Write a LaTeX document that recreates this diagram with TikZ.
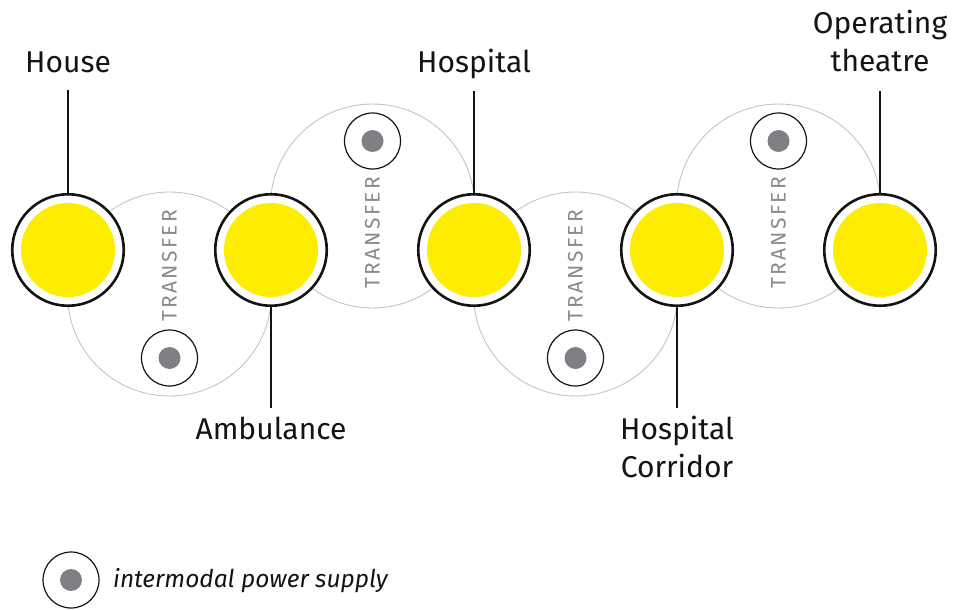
\documentclass[tikz,border=0pt]{standalone}
\usepackage{fontspec}
\setmainfont{Fira Sans}
\newfontfamily\tfont[LetterSpace=11]{Fira Sans}
\definecolor{stopyellow}{HTML}{FFED00}
\definecolor{dotgray}{HTML}{808084}
\definecolor{ringgray}{HTML}{C4C4C4}
\definecolor{txtgray}{HTML}{8A8A8E}
\definecolor{ink}{HTML}{141414}
\begin{document}
\begin{tikzpicture}[x=1pt,y=-1pt,
  stop/.style={circle, draw=ink, line width=2.6pt, fill=white, minimum size=111.5pt, inner sep=0pt},
  core/.style={circle, fill=stopyellow, minimum size=94pt, inner sep=0pt},
  transfer/.style={circle, draw=ringgray, line width=0.9pt, minimum size=204pt, inner sep=0pt},
  power/.style={circle, draw=ink, line width=1.2pt, fill=white, minimum size=56pt, inner sep=0pt},
  pdot/.style={circle, fill=dotgray, minimum size=22pt, inner sep=0pt},
  ttext/.style={rotate=90, text=txtgray, font=\tfont\fontsize{21}{21}\selectfont, inner sep=0pt},
  lbl/.style={text=ink, font=\fontsize{30}{38}\selectfont, align=center, inner sep=0pt, anchor=base},
  lead/.style={draw=ink, line width=1.3pt}
]
\useasboundingbox (0,0) rectangle (954,610);
% transfer rings
\node[transfer] (t1) at (169.5,294) {};
\node[transfer] (t2) at (372.5,206) {};
\node[transfer] (t3) at (575.5,294) {};
\node[transfer] (t4) at (778.5,206) {};
% stops
\foreach \n/\x in {s1/68, s2/271, s3/474, s4/677, s5/880}{
  \node[stop] (\n) at (\x,250) {};
  \node[core] at (\n) {};
}
% power supplies
\node[power] (p1) at (169.5,358) {}; \node[pdot] at (p1) {};
\node[power] (p2) at (372.5,141) {}; \node[pdot] at (p2) {};
\node[power] (p3) at (575.5,358) {}; \node[pdot] at (p3) {};
\node[power] (p4) at (778.5,141) {}; \node[pdot] at (p4) {};
% TRANSFER texts
\node[ttext] (x1) at (169.5,266) {TRANSFER};
\node[ttext] (x2) at (372.5,233) {TRANSFER};
\node[ttext] (x3) at (575.5,266) {TRANSFER};
\node[ttext] (x4) at (778.5,233) {TRANSFER};
% labels
\node[lbl] (l1) at (68,73) {House};
\node[lbl] (l2) at (271,439) {Ambulance};
\node[lbl] (l3) at (474,73) {Hospital};
\node[lbl] (l4) at (677,477) {Hospital\\Corridor};
\node[lbl] (l5) at (880,72) {Operating\\theatre};
\coordinate (c1) at (68,90);
\coordinate (c2) at (271,408);
\coordinate (c3) at (474,91);
\coordinate (c4) at (677,408);
\coordinate (c5) at (880,91);
\draw[lead] (c1) -- (s1.north);
\draw[lead] (c2) -- (s2.south);
\draw[lead] (c3) -- (s3.north);
\draw[lead] (c4) -- (s4.south);
\draw[lead] (c5) -- (s5.north);
% legend
\node[power] (lp) at (71,580) {}; \node[pdot] at (lp) {};
\node[text=ink, font=\itshape\fontsize{24.5}{24.5}\selectfont, anchor=base west, inner sep=0pt] (lt) at (113,587) {intermodal power supply};
\end{tikzpicture}
\end{document}
